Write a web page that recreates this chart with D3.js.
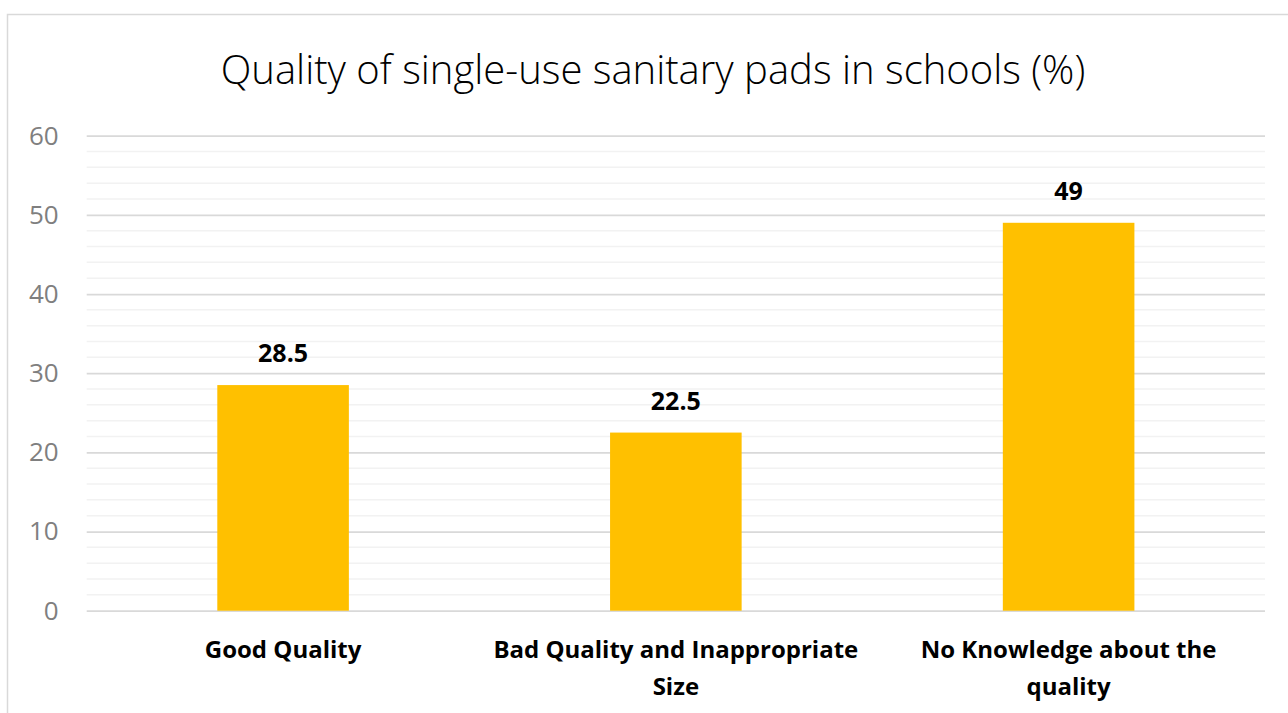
<!DOCTYPE html>
<html>
<head>
<meta charset="utf-8">
<script src="https://cdn.jsdelivr.net/npm/d3@7"></script>
<style>
  html, body { margin: 0; padding: 0; background: #ffffff; }
  svg { display: block; }
</style>
</head>
<body>
<svg id="chart" width="1288" height="713"></svg>
<script>
// Chart data
const categories = ["Good Quality", "Bad Quality and Inappropriate Size", "No Knowledge about the quality"];
const categoryLines = [["Good Quality"], ["Bad Quality and Inappropriate", "Size"], ["No Knowledge about the", "quality"]];
const values = [28.5, 22.5, 49];
const yTicks = [0, 10, 20, 30, 40, 50, 60];
const yMinorTicks = [2, 4, 6, 8, 12, 14, 16, 18, 22, 24, 26, 28, 32, 34, 36, 38, 42, 44, 46, 48, 52, 54, 56, 58];
const title = "Quality of single-use sanitary pads in schools (%)";

const W = 1288, H = 713;
const plot = { left: 86.7, right: 1265, top: 135.7, bottom: 610.7 };
const FONT = "'Open Sans', 'Noto Sans', sans-serif";

const svg = d3.select("#chart");

// Outer chart frame (right and bottom edges fall outside the view)
svg.append("rect")
  .attr("x", 7.5).attr("y", 14.5)
  .attr("width", W + 20).attr("height", H + 20)
  .attr("fill", "#ffffff")
  .attr("stroke", "#d9d9d9").attr("stroke-width", 1.5);

const x = d3.scaleBand()
  .domain(categories)
  .range([plot.left, plot.right])
  .paddingInner(0.665)
  .paddingOuter(0.3325);

const y = d3.scaleLinear()
  .domain([0, 60])
  .range([plot.bottom, plot.top]);

// Minor gridlines
svg.append("g").selectAll("line")
  .data(yMinorTicks).join("line")
  .attr("x1", plot.left).attr("x2", plot.right)
  .attr("y1", d => y(d)).attr("y2", d => y(d))
  .attr("stroke", "#f2f2f2").attr("stroke-width", 1.5);

// Major gridlines and tick labels via a left axis
const yAxis = d3.axisLeft(y)
  .tickValues(yTicks)
  .tickSize(-(plot.right - plot.left))
  .tickPadding(28)
  .tickFormat(d3.format("d"));

const gy = svg.append("g")
  .attr("transform", `translate(${plot.left},0)`)
  .call(yAxis);
gy.select(".domain").remove();
gy.selectAll(".tick line").attr("stroke", "#d9d9d9").attr("stroke-width", 1.8);
gy.selectAll(".tick text")
  .attr("fill", "#7f7f7f")
  .style("font-family", FONT)
  .style("font-size", "26px");

// Bars
svg.append("g").selectAll("rect")
  .data(values).join("rect")
  .attr("x", (d, i) => x(categories[i]))
  .attr("width", x.bandwidth())
  .attr("y", d => y(d))
  .attr("height", d => y(0) - y(d))
  .attr("fill", "#ffc000");

// Value labels
svg.append("g").selectAll("text")
  .data(values).join("text")
  .attr("x", (d, i) => x(categories[i]) + x.bandwidth() / 2)
  .attr("y", d => y(d) - 23)
  .attr("text-anchor", "middle")
  .attr("fill", "#000000")
  .style("font-family", FONT)
  .style("font-weight", "bold")
  .style("font-size", "25px")
  .text(d => d);

// Category labels
const catG = svg.append("g");
categories.forEach((c, i) => {
  const t = catG.append("text")
    .attr("x", x(c) + x.bandwidth() / 2)
    .attr("y", 658)
    .attr("text-anchor", "middle")
    .attr("fill", "#000000")
    .style("font-family", FONT)
    .style("font-weight", "bold")
    .style("font-size", "24px");
  categoryLines[i].forEach((line, j) => {
    t.append("tspan")
      .attr("x", x(c) + x.bandwidth() / 2)
      .attr("dy", j === 0 ? 0 : 37)
      .text(line);
  });
});

// Title
svg.append("text")
  .attr("x", 653)
  .attr("y", 84)
  .attr("text-anchor", "middle")
  .attr("fill", "#000000")
  .style("font-family", FONT)
  .style("font-weight", "300")
  .style("font-size", "40px")
  .text(title);
</script>
</body>
</html>
